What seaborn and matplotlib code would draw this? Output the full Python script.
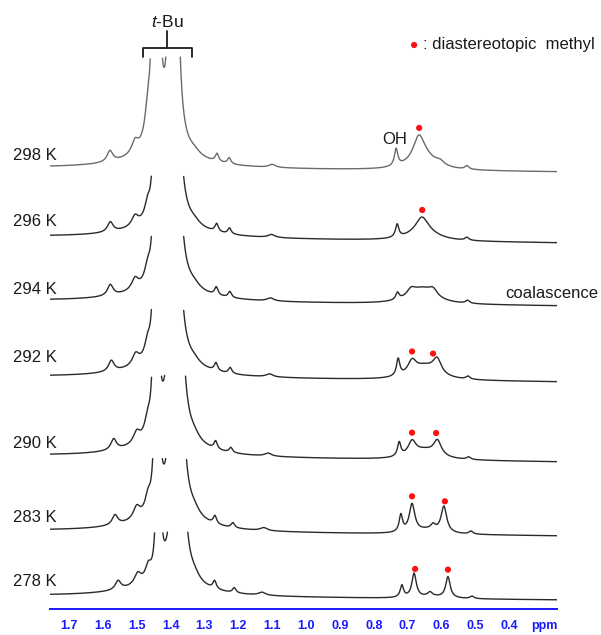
import numpy as np
import pandas as pd
import matplotlib
matplotlib.use("Agg")
import matplotlib.pyplot as plt
import matplotlib.transforms as mtransforms
from matplotlib.ticker import MultipleLocator, FixedLocator
import seaborn as sns

# ---------------- data ----------------
temps = ["298 K", "296 K", "294 K", "292 K", "290 K", "283 K", "278 K"]

# t-Bu resonance (two lines), ppm and peak amplitudes (px-height scale, hwhm 0.003 ppm)
tbu_ppm1 = [1.443, 1.443, 1.443, 1.443, 1.443, 1.440, 1.436]
tbu_ppm2 = [1.391, 1.391, 1.391, 1.391, 1.385, 1.382, 1.378]
tbu_amp1 = [2570, 770, 830, 850, 1050, 925, 610]
tbu_amp2 = [4280, 5010, 5390, 5580, 6600, 5740, 4960]
skirt_amp = [12, 11, 11, 11, 11, 11, 11]

# multiplets left of t-Bu
a_ppm = [1.579, 1.578, 1.578, 1.575, 1.568, 1.564, 1.555]
a_amp = [11, 10, 11, 11, 11, 10, 9]
b_ppm = [1.505, 1.505, 1.505, 1.503, 1.500, 1.500, 1.497]
b_amp = [12, 10, 11, 11, 11, 12, 11]
g_ppm = [1.468, 1.468, 1.468, 1.468, 1.468, 1.467, 1.466]
g_amp = [22, 14, 14, 14, 14, 14, 13]

# multiplets right of t-Bu
c_ppm = [1.263, 1.264, 1.265, 1.266, 1.267, 1.269, 1.270]
c_amp = [8, 8, 8, 8, 8, 8, 8]
d_ppm = [1.227, 1.226, 1.225, 1.224, 1.222, 1.216, 1.212]
d_amp = [6, 6, 6, 6, 5, 5, 5]
e_ppm = [1.100, 1.102, 1.105, 1.108, 1.112, 1.125, 1.130]
e_amp = [3, 3, 3, 3, 3, 3, 3]
f_ppm = [1.330, 1.330, 1.330, 1.330, 1.330, 1.330, 1.330]
f_amp = [4, 4, 4, 4, 5, 6, 6]

# OH and diastereotopic methyl region
oh_ppm = [0.734, 0.731, 0.730, 0.728, 0.725, 0.720, 0.717]
oh_amp = [17, 13, 7, 17, 14, 17, 12]
me1_ppm = [0.667, 0.658, 0.690, 0.687, 0.687, 0.687, 0.681]
me1_amp = [23, 12, 7, 13, 14, 28, 24]
me1_hwhm = [0.020, 0.020, 0.015, 0.015, 0.014, 0.010, 0.008]
me2_ppm = [0.605, 0.600, 0.625, 0.613, 0.612, 0.593, 0.581]
me2_amp = [4, 0, 7, 15, 15, 26, 21]
me2_hwhm = [0.015, 0.015, 0.015, 0.015, 0.014, 0.010, 0.008]
mid_ppm = [0.64, 0.64, 0.64, 0.64, 0.64, 0.625, 0.634]
mid_amp = [0, 0, 0, 0, 0, 5, 4]
hump_ppm = [0.655, 0.655, 0.657, 0.650, 0.650, 0.640, 0.630]
hump_amp = [13, 12, 15, 13, 9, 4, 2]
small_ppm = [0.525, 0.525, 0.523, 0.522, 0.520, 0.513, 0.510]
small_amp = [3.5, 3, 3, 3, 2.5, 3, 2.5]

# red dots: diastereotopic methyl positions (ppm)
dot_ppm = [[0.666], [0.657], [], [0.687, 0.625], [0.687, 0.616], [0.687, 0.590], [0.678, 0.581]]

tick_values = [1.7, 1.6, 1.5, 1.4, 1.3, 1.2, 1.1, 1.0, 0.9, 0.8, 0.7, 0.6, 0.5, 0.4]

# ---------------- layout ----------------
W, H = 601, 635
AX_BOTTOM_PX = 609          # y (from top) of the ppm axis line
base_left_px = [168, 237, 301, 377, 456, 531, 596]
base_right_px = [172, 243, 306, 382, 462, 536, 600]
clip_px = [112, 63, 67, 69, 82, 74, 65]
label_px = [155, 222, 290, 357, 443, 518, 581]
x_left, x_right = 1.756, 0.259

def lor(x, x0, h, w):
    return h * w ** 2 / ((x - x0) ** 2 + w ** 2)

ppm = np.linspace(x_left, x_right, 5000)

frames = []
dots = []
for i, t in enumerate(temps):
    s = np.zeros_like(ppm)
    s += lor(ppm, tbu_ppm1[i], tbu_amp1[i], 0.003)
    s += lor(ppm, tbu_ppm2[i], tbu_amp2[i], 0.003)
    s += lor(ppm, 1.42, skirt_amp[i], 0.12)
    s += lor(ppm, a_ppm[i], a_amp[i], 0.010)
    s += lor(ppm, b_ppm[i], b_amp[i], 0.012)
    s += lor(ppm, g_ppm[i], g_amp[i], 0.010)
    s += lor(ppm, c_ppm[i], c_amp[i], 0.006)
    s += lor(ppm, d_ppm[i], d_amp[i], 0.006)
    s += lor(ppm, e_ppm[i], e_amp[i], 0.012)
    s += lor(ppm, f_ppm[i], f_amp[i], 0.02)
    s += lor(ppm, oh_ppm[i], oh_amp[i], 0.006)
    s += lor(ppm, me1_ppm[i], me1_amp[i], me1_hwhm[i])
    s += lor(ppm, me2_ppm[i], me2_amp[i], me2_hwhm[i])
    s += lor(ppm, mid_ppm[i], mid_amp[i], 0.008)
    s += lor(ppm, hump_ppm[i], hump_amp[i], 0.045)
    s += lor(ppm, small_ppm[i], small_amp[i], 0.007)
    # baseline drifts slightly downward toward the right edge
    off = AX_BOTTOM_PX - np.interp(ppm, [x_right, x_left], [base_right_px[i], base_left_px[i]])
    keep = s <= clip_px[i]
    seg = np.cumsum(np.r_[0, np.diff(keep.astype(int)) != 0])
    df = pd.DataFrame({"ppm": ppm[keep], "y": off[keep] + s[keep],
                       "seg": [f"{t}-{k}" for k in seg[keep]], "trace": t})
    frames.append(df)
    for dp in dot_ppm[i]:
        dots.append({"ppm": dp, "y": np.interp(dp, ppm[::-1], (off + s)[::-1]) + 7})

sns.set_style("white")
plt.rcParams["font.family"] = ["Liberation Sans", "DejaVu Sans"]
plt.rcParams["mathtext.fontset"] = "custom"
plt.rcParams["mathtext.it"] = "Liberation Sans:italic"
plt.rcParams["mathtext.rm"] = "Liberation Sans"

fig = plt.figure(figsize=(W / 100, H / 100), dpi=100)
ax = fig.add_axes([50 / W, (H - AX_BOTTOM_PX) / H, 507 / W, AX_BOTTOM_PX / H])

for i, df in enumerate(frames):
    col = "#6b6b6b" if i == 0 else "#2a2a2a"
    sns.lineplot(data=df, x="ppm", y="y", units="seg", estimator=None, sort=False,
                 color=col, lw=1.0, ax=ax, legend=False)

dots_df = pd.DataFrame(dots)
sns.scatterplot(data=dots_df, x="ppm", y="y", color="#ff1010", s=20, edgecolor="none",
                ax=ax, legend=False, zorder=5)

ax.set_xlim(x_left, x_right)
ax.set_ylim(0, AX_BOTTOM_PX)
ax.set_xlabel("")
ax.set_ylabel("")
ax.set_yticks([])
for sp in ["top", "left", "right"]:
    ax.spines[sp].set_visible(False)
blue = "#1a1aff"
ax.spines["bottom"].set_color(blue)
ax.spines["bottom"].set_linewidth(1.4)
ax.xaxis.set_major_locator(FixedLocator(tick_values))
ax.set_xticklabels([f"{v:.1f}" for v in tick_values])
ax.xaxis.set_minor_locator(MultipleLocator(0.01))
TL, TP = 3.5, 4.5
ax.tick_params(axis="x", which="major", direction="out", length=TL, width=1.1,
               color=blue, labelcolor=blue, labelsize=9, pad=TP)
ax.tick_params(axis="x", which="minor", direction="out", length=2.0, width=0.9, color=blue)
for lab in ax.get_xticklabels():
    lab.set_fontweight("bold")
ppm_tr = mtransforms.offset_copy(ax.get_xaxis_transform(), fig=fig, x=0, y=-(TL + TP), units="points")
ax.text(0.297, 0, "ppm", transform=ppm_tr, ha="center", va="top", color=blue,
        fontsize=9, fontweight="bold")

# temperature labels
for i, t in enumerate(temps):
    ax.text(1.7354, AX_BOTTOM_PX - label_px[i], t, ha="right", va="center",
            fontsize=12, color="#1a1a1a", clip_on=False)

# t-Bu bracket
bl, br = 1.482, 1.337
bm = (bl + br) / 2
ax.plot([bl, bl, br, br], [AX_BOTTOM_PX - 57, AX_BOTTOM_PX - 48, AX_BOTTOM_PX - 48, AX_BOTTOM_PX - 57],
        color="#1a1a1a", lw=1.3, clip_on=False)
ax.plot([bm, bm], [AX_BOTTOM_PX - 48, AX_BOTTOM_PX - 31], color="#1a1a1a", lw=1.3, clip_on=False)
ax.text(bm, AX_BOTTOM_PX - 22, r"$t$-Bu", ha="center", va="center", fontsize=12.5, color="#1a1a1a")

# legend note
ax.scatter([0.681], [AX_BOTTOM_PX - 45], color="#ff1010", s=20, edgecolor="none", clip_on=False)
ax.text(0.6545, AX_BOTTOM_PX - 45, ": diastereotopic  methyl", ha="left", va="center",
        fontsize=12, color="#1a1a1a", clip_on=False)

ax.text(0.737, AX_BOTTOM_PX - 140, "OH", ha="center", va="center", fontsize=12, color="#1a1a1a")
ax.text(0.138, AX_BOTTOM_PX - 294, "coalascence", ha="right", va="center", fontsize=12,
        color="#1a1a1a", clip_on=False)

fig.savefig("out.png", dpi=100)
